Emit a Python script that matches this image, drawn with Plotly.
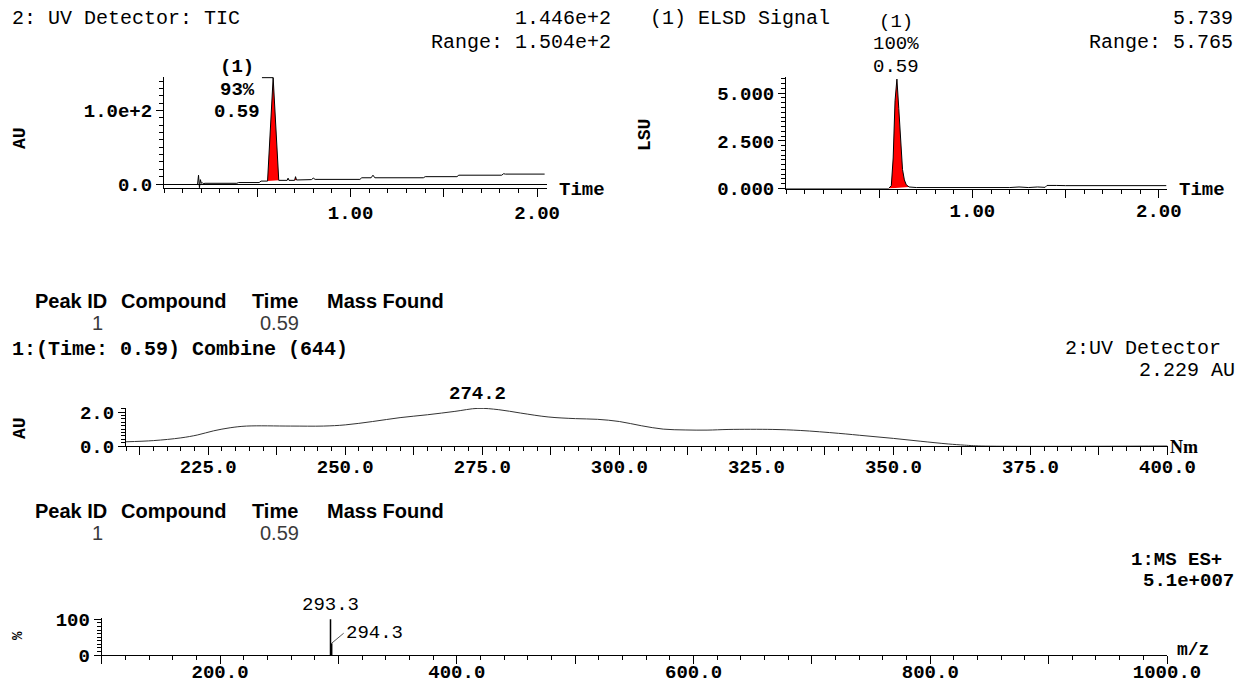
import plotly.graph_objects as go

W, H = 1239, 683

# ---------------- data ----------------
# UV detector TIC (time in min, AU)
tic_t = [0.18, 0.185, 0.19, 0.195, 0.20, 0.205, 0.21, 0.22, 0.39, 0.40, 0.51, 0.52,
         0.555, 0.585, 0.615, 0.66, 0.665, 0.67, 0.70, 0.705, 0.71, 0.72, 0.79, 0.80,
         0.81, 1.05, 1.06, 1.11, 1.12, 1.13, 1.39, 1.40, 1.57, 1.58, 1.81, 1.82, 1.83, 2.04]
tic_au = [0, 12, -5, 6, 1, 2, 0.5, 1, 1, 2, 2, 4,
          4, 144.6, 5, 5, 8, 5, 5, 10, 5.5, 5.5, 6, 8,
          6.3, 6.3, 8.5, 8.5, 12, 8.5, 8.5, 10, 10, 12, 12, 14, 13.5, 13.5]
tic_peak = (0.555, 0.615)
tic_bump = (0.70, 0.71)

# ELSD signal (time in min, LSU)
elsd_t = [0.0, 0.55, 0.565, 0.575, 0.585, 0.595, 0.605, 0.615, 0.625, 0.635, 0.645,
          0.66, 0.70, 1.20, 1.25, 1.30, 1.35, 1.39, 1.40, 1.45, 1.50, 2.04]
elsd_v = [0.0, 0.0, 0.15, 1.6, 4.6, 5.739, 4.2, 2.2, 1.0, 0.45, 0.2,
          0.08, 0.05, 0.05, 0.08, 0.05, 0.08, 0.06, 0.16, 0.16, 0.15, 0.15]
elsd_peak = (0.55, 0.66)

# UV spectrum (nm, AU)
uv_nm = [210, 215, 220, 223, 226, 229, 232, 240, 246, 250, 255, 260, 265, 270, 274.2,
         278, 282, 287, 292, 296, 300, 304, 308, 312, 316, 320, 328, 333, 340, 345,
         350, 355, 360, 363, 366, 400]
uv_au = [0.25, 0.32, 0.48, 0.65, 0.90, 1.08, 1.18, 1.18, 1.18, 1.25, 1.45, 1.68, 1.85,
         2.05, 2.229, 2.15, 1.95, 1.72, 1.62, 1.58, 1.45, 1.2, 1.0, 0.95, 0.94, 0.98,
         0.98, 0.92, 0.75, 0.6, 0.45, 0.28, 0.12, 0.05, 0.0, 0.0]

# MS ES+ spectrum (m/z, %)
ms_mz = [293.3, 294.3]
ms_int = [100, 33]

# tick labels
tic_xtickvals = [0.5, 1.0, 1.5, 2.0]
tic_xticktext = ["", "1.00", "", "2.00"]
tic_ytickvals = [0, 100]
tic_yticktext = ["0.0", "1.0e+2"]
elsd_ytickvals = [0, 2.5, 5.0]
elsd_yticktext = ["0.000", "2.500", "5.000"]
uv_xtickvals = [212.5 + 12.5 * i for i in range(16)]
uv_xticktext = ["" if (v % 25) else f"{v:.1f}" for v in uv_xtickvals]
uv_ytickvals = [0, 2]
uv_yticktext = ["0.0", "2.0"]
ms_xtickvals = list(range(100, 1001, 100))
ms_xticktext = [f"{v:.1f}" if v % 200 == 0 else "" for v in ms_xtickvals]
ms_ytickvals = [0, 100]
ms_yticktext = ["0", "100"]

MONO = "Liberation Mono"
SANS = "Liberation Sans"


def X(p):
    return p / W


def Y(p):
    return 1 - p / H


fig = go.Figure()


def sub(xs, ys, lo, hi):
    px = [x for x in xs if lo <= x <= hi]
    py = [y for x, y in zip(xs, ys) if lo <= x <= hi]
    return px, py


# TIC
for rng in (tic_peak, tic_bump):
    px_, py_ = sub(tic_t, tic_au, *rng)
    fig.add_trace(go.Scatter(x=px_ + [px_[-1], px_[0]], y=py_ + [py_[-1], py_[0]],
                             fill="toself", fillcolor="#ff0000", mode="lines",
                             line=dict(width=0), xaxis="x", yaxis="y", hoverinfo="skip"))
fig.add_trace(go.Scatter(x=tic_t, y=tic_au, mode="lines", line=dict(color="black", width=1),
                         xaxis="x", yaxis="y"))
apex_i = tic_au.index(max(tic_au))
fig.add_trace(go.Scatter(x=[tic_t[apex_i] - 0.06, tic_t[apex_i]], y=[tic_au[apex_i]] * 2,
                         mode="lines", line=dict(color="black", width=1), xaxis="x", yaxis="y"))

# ELSD
px_, py_ = sub(elsd_t, elsd_v, *elsd_peak)
fig.add_trace(go.Scatter(x=px_ + [px_[0]], y=py_ + [py_[0]], fill="toself", fillcolor="#ff0000",
                         mode="lines", line=dict(width=0), xaxis="x2", yaxis="y2"))
fig.add_trace(go.Scatter(x=elsd_t, y=elsd_v, mode="lines", line=dict(color="black", width=1),
                         xaxis="x2", yaxis="y2"))

# UV spectrum
fig.add_trace(go.Scatter(x=uv_nm, y=uv_au, mode="lines", line=dict(color="#333333", width=1),
                         line_shape="spline", xaxis="x3", yaxis="y3"))

# MS sticks
sx, sy = [], []
for m, i in zip(ms_mz, ms_int):
    sx += [m, m, None]
    sy += [0, i, None]
fig.add_trace(go.Scatter(x=sx, y=sy, mode="lines", line=dict(color="black", width=1.5),
                         xaxis="x4", yaxis="y4"))

tickfont = dict(family=MONO, size=19, color="black", weight="bold")


def xax(domain, rng, tv, tt, anchor, minor_dtick, tick0, standoff):
    return dict(domain=domain, range=rng, anchor=anchor, showline=True, linecolor="black",
                linewidth=1, ticks="outside", ticklen=8, tickcolor="black", tickwidth=1,
                tickmode="array", tickvals=tv, ticktext=tt, tickfont=tickfont,
                showgrid=False, zeroline=False, ticklabelstandoff=standoff, fixedrange=True,
                automargin=False,
                minor=dict(tickmode="linear", tick0=tick0, dtick=minor_dtick, ticks="outside",
                           ticklen=4, tickcolor="black", showgrid=False))


def yax(domain, rng, tv, tt, anchor, minor_dtick, zeroline=False):
    return dict(domain=domain, range=rng, anchor=anchor, showline=True, linecolor="black",
                linewidth=1, ticks="outside", ticklen=7, tickcolor="black", tickwidth=1,
                tickmode="array", tickvals=tv, ticktext=tt, tickfont=tickfont,
                showgrid=False, zeroline=zeroline, zerolinecolor="black", zerolinewidth=1,
                fixedrange=True, automargin=False,
                minor=dict(tickmode="linear", tick0=0, dtick=minor_dtick, ticks="outside",
                           ticklen=4, tickcolor="black", showgrid=False))


fig.update_layout(
    template="none",
    width=W, height=H, autosize=False, margin=dict(l=0, r=0, t=0, b=0, pad=0),
    paper_bgcolor="white", plot_bgcolor="white", showlegend=False,
    xaxis=xax([X(164), X(546.5)], [0, 2.05], tic_xtickvals, tic_xticktext, "y", 0.1, 0, -1),
    yaxis=yax([Y(188), Y(77)], [-5.4, 145.5], tic_ytickvals, tic_yticktext, "x", 10, True),
    xaxis2=xax([X(786), X(1167)], [0, 2.044], tic_xtickvals, tic_xticktext, "y2", 0.1, 0, -3),
    yaxis2=yax([Y(188.5), Y(77)], [0, 5.85], elsd_ytickvals, elsd_yticktext, "x2", 0.25),
    xaxis3=xax([X(126), X(1167.5)], [210, 400], uv_xtickvals, uv_xticktext, "y3", 2.5, 210, -5),
    yaxis3=yax([Y(446), Y(408)], [0, 2.25], uv_ytickvals, uv_yticktext, "x3", 0.2),
    xaxis4=xax([X(101.7), X(1167)], [100, 1000], ms_xtickvals, ms_xticktext, "y4", 20, 100, -9),
    yaxis4=yax([Y(655), Y(618)], [0, 103.6], ms_ytickvals, ms_yticktext, "x4", 10),
)

anns = []


def T(text, x, y, xanchor="left", size=20, family=MONO, bold=True, color="black", angle=0):
    anns.append(dict(text=text, x=X(x), y=Y(y), xref="paper", yref="paper", xanchor=xanchor,
                     yanchor="middle", showarrow=False, textangle=angle,
                     font=dict(family=family, size=size, color=color,
                               weight="bold" if bold else "normal")))


# top-left
T("2: UV Detector: TIC", 10, 18, bold=False)
T("1.446e+2", 613, 18, "right", bold=False)
T("Range: 1.504e+2", 613, 42, "right", bold=False)
T("(1)", 237, 67, "center", 19)
T("93%", 237, 90, "center", 19)
T("0.59", 237, 112, "center", 19)
T("AU", 20, 138, "center", 18, angle=-90)
T("Time", 557, 190, "left", 19)
# top-right
T("(1) ELSD Signal", 648, 18, bold=False)
T("(1)", 896, 22, "center", 19, bold=False)
T("100%", 896, 44, "center", 19, bold=False)
T("0.59", 896, 67, "center", 19, bold=False)
T("5.739", 1235, 18, "right", bold=False)
T("Range: 5.765", 1235, 42, "right", bold=False)
T("LSU", 645, 135, "center", 18, angle=-90)
T("Time", 1177, 190, "left", 19)
# tables
for yy, yv in ((301, 323), (511, 533)):
    T("Peak ID", 33, yy, "left", 20, SANS)
    T("Compound", 119, yy, "left", 20, SANS)
    T("Time", 250, yy, "left", 20, SANS)
    T("Mass Found", 325, yy, "left", 20, SANS)
    T("1", 97, yv, "center", 20, SANS, False, "#3a3a3a")
    T("0.59", 279, yv, "center", 20, SANS, False, "#3a3a3a")
# UV
T("1:(Time: 0.59) Combine (644)", 10, 349)
T("2:UV Detector", 1223, 348, "right", bold=False)
T("2.229 AU", 1237, 370, "right", bold=False)
T("AU", 20, 428, "center", 18, angle=-90)
T("Nm", 1168, 447, "left", 18, "Liberation Serif")
# MS
T("1:MS ES+", 1224, 560, "right", 19)
T("5.1e+007", 1236, 581, "right", 19)
T("%", 18, 636, "center", 14, angle=-90)
T("m/z", 1175, 650, "left", 18)

# data-anchored labels
uv_i = uv_au.index(max(uv_au))
anns.append(dict(text=f"{uv_nm[uv_i]:.1f}", x=uv_nm[uv_i], y=uv_au[uv_i], xref="x3", yref="y3",
                 xanchor="center", yanchor="bottom", yshift=1, showarrow=False,
                 font=dict(family=MONO, size=19, color="black", weight="bold")))
anns.append(dict(text=f"{ms_mz[0]:.1f}", x=ms_mz[0], y=ms_int[0], xref="x4", yref="y4",
                 xanchor="center", yanchor="bottom", yshift=1, showarrow=False,
                 font=dict(family=MONO, size=19, color="black")))
anns.append(dict(text=f"{ms_mz[1]:.1f}", x=ms_mz[1], y=ms_int[1], xref="x4", yref="y4",
                 ax=12, ay=-10, xanchor="left", yanchor="middle", showarrow=True, arrowhead=0,
                 arrowwidth=1, arrowcolor="#555555", standoff=0,
                 font=dict(family=MONO, size=19, color="black")))

fig.update_layout(annotations=anns)

fig.write_html("out.html", config={"displayModeBar": False},
               post_script="document.body.style.margin='0';document.body.style.overflow='hidden';")
